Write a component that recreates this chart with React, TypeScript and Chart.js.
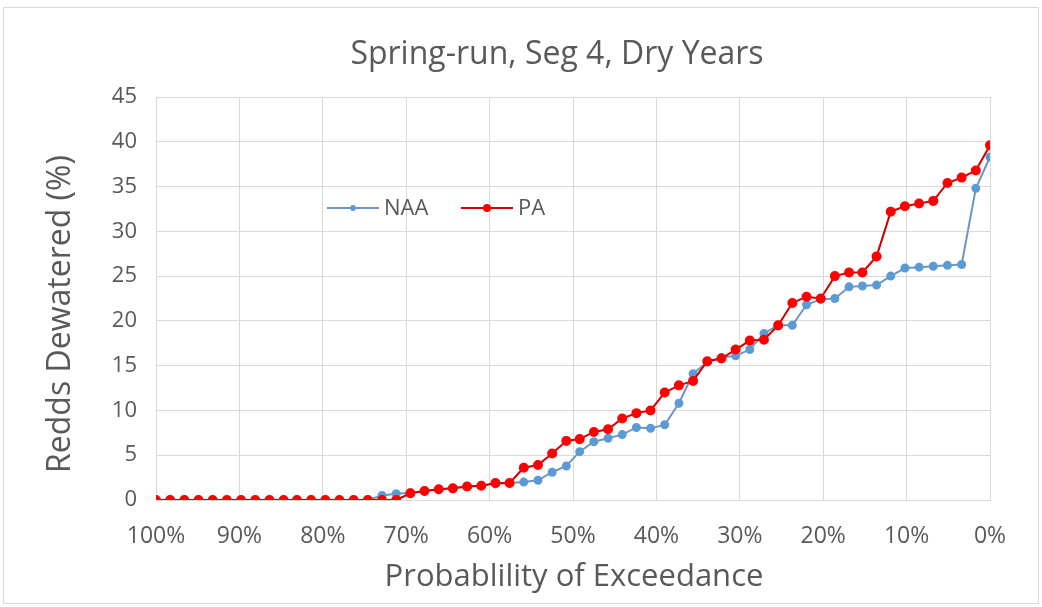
import React, { useEffect, useRef } from "react";
import { Chart, registerables } from "chart.js";

Chart.register(...registerables);

const exceedance = [
  100.0, 98.3, 96.6, 94.9, 93.2, 91.5, 89.8, 88.1, 86.4, 84.7,
  83.1, 81.4, 79.7, 78.0, 76.3, 74.6, 72.9, 71.2, 69.5, 67.8,
  66.1, 64.4, 62.7, 61.0, 59.3, 57.6, 55.9, 54.2, 52.5, 50.8,
  49.2, 47.5, 45.8, 44.1, 42.4, 40.7, 39.0, 37.3, 35.6, 33.9,
  32.2, 30.5, 28.8, 27.1, 25.4, 23.7, 22.0, 20.3, 18.6, 16.9,
  15.3, 13.6, 11.9, 10.2, 8.5, 6.8, 5.1, 3.4, 1.7, 0.0,
];

const naa = [
  0, 0, 0, 0, 0, 0, 0, 0, 0, 0,
  0, 0, 0, 0, 0, 0, 0.5, 0.7, 0.8, 1.0,
  1.2, 1.3, 1.5, 1.6, 1.8, 1.9, 2.0, 2.2, 3.1, 3.8,
  5.4, 6.5, 6.9, 7.3, 8.1, 8.0, 8.4, 10.8, 14.1, 15.4,
  15.9, 16.1, 16.8, 18.6, 19.5, 19.5, 21.8, 22.4, 22.5, 23.8,
  23.9, 24.0, 25.0, 25.9, 26.0, 26.1, 26.2, 26.3, 34.8, 38.3,
];

const pa = [
  0, 0, 0, 0, 0, 0, 0, 0, 0, 0,
  0, 0, 0, 0, 0, 0, 0, 0, 0.75, 1.0,
  1.2, 1.3, 1.5, 1.6, 1.9, 1.9, 3.6, 3.9, 5.2, 6.6,
  6.8, 7.6, 7.9, 9.1, 9.7, 10.0, 12.0, 12.8, 13.3, 15.5,
  15.8, 16.8, 17.8, 17.9, 19.5, 22.0, 22.7, 22.5, 25.0, 25.4,
  25.4, 27.2, 32.2, 32.8, 33.1, 33.4, 35.4, 36.0, 36.8, 39.6,
];

const seriesNames = ["NAA", "PA"];
const titleText = "Spring-run, Seg 4, Dry Years";
const xTitle = "Probablility of Exceedance";
const yTitle = "Redds Dewatered (%)";

const TEXT = "#595959";
const GRID = "#d9d9d9";
const BLUE_LINE = "#6f95c0";
const BLUE_PT = "#5b9bd5";
const RED_LINE = "#d00000";
const RED_PT = "#ff0000";
const FONT = "'Open Sans'";

const decorPlugin = {
  id: "decor",
  afterDraw(chart: any) {
    const { ctx, chartArea } = chart;
    const L = chartArea.left;
    const T = chartArea.top;
    const B = chartArea.bottom;
    ctx.save();
    // titles
    ctx.fillStyle = TEXT;
    ctx.textAlign = "center";
    ctx.textBaseline = "middle";
    ctx.font = `32px ${FONT}`;
    ctx.fillText(titleText, L + 401, T - 42);
    ctx.font = `31px ${FONT}`;
    ctx.fillText(xTitle, L + 418, B + 77);
    ctx.save();
    ctx.translate(L - 95, T + 217);
    ctx.rotate(-Math.PI / 2);
    ctx.font = `32px ${FONT}`;
    ctx.fillText(yTitle, 0, 0);
    ctx.restore();

    // legend inside plot
    const y = T + 111;
    const items = [
      { x: L + 171, label: seriesNames[0], line: BLUE_LINE, pt: BLUE_PT, r: 3 },
      { x: L + 305, label: seriesNames[1], line: RED_LINE, pt: RED_PT, r: 4 },
    ];
    for (const it of items) {
      ctx.strokeStyle = it.line;
      ctx.lineWidth = 2;
      ctx.beginPath();
      ctx.moveTo(it.x, y);
      ctx.lineTo(it.x + 52, y);
      ctx.stroke();
      ctx.fillStyle = it.pt;
      ctx.beginPath();
      ctx.arc(it.x + 26, y, it.r, 0, Math.PI * 2);
      ctx.fill();
      ctx.fillStyle = TEXT;
      ctx.font = `22px ${FONT}`;
      ctx.textBaseline = "middle";
      ctx.textAlign = "left";
      ctx.fillText(it.label, it.x + 57, y + 1);
    }
    // outer chart border
    ctx.strokeStyle = GRID;
    ctx.lineWidth = 1;
    ctx.strokeRect(3.5, 7.5, 1035, 596);
    ctx.restore();
  },
};

export default function App() {
  const ref = useRef<HTMLCanvasElement>(null);
  useEffect(() => {
    if (!ref.current) return;
    const chart = new Chart(ref.current, {
      type: "line",
      data: {
        datasets: [
          {
            label: seriesNames[0],
            data: exceedance.map((x, i) => ({ x, y: naa[i] })),
            borderColor: BLUE_LINE,
            backgroundColor: BLUE_PT,
            pointBackgroundColor: BLUE_PT,
            pointBorderColor: BLUE_PT,
            pointRadius: 3.5,
            borderWidth: 2,
            order: 2,
          },
          {
            label: seriesNames[1],
            data: exceedance.map((x, i) => ({ x, y: pa[i] })),
            borderColor: RED_LINE,
            backgroundColor: RED_PT,
            pointBackgroundColor: RED_PT,
            pointBorderColor: RED_PT,
            pointRadius: 4,
            borderWidth: 2,
            order: 1,
          },
        ],
      },
      options: {
        animation: false,
        responsive: false,
        layout: { padding: { left: 0, right: 52, top: 97, bottom: 0 } },
        plugins: {
          legend: { display: false },
          tooltip: { enabled: false },
          title: { display: false },
        },
        scales: {
          x: {
            type: "linear",
            reverse: true,
            min: 0,
            max: 100,
            afterFit: (s: any) => {
              s.height = 107;
            },
            ticks: {
              stepSize: 10,
              color: TEXT,
              font: { family: FONT, size: 23 },
              padding: 23,
              maxRotation: 0,
              callback: (v: any) => `${v}%`,
            },
            grid: { color: GRID, drawTicks: false },
            border: { color: GRID },
          },
          y: {
            min: 0,
            max: 45,
            afterFit: (s: any) => {
              s.width = 156;
            },
            ticks: {
              stepSize: 5,
              color: TEXT,
              font: { family: FONT, size: 22 },
              padding: 19,
            },
            grid: { color: GRID, drawTicks: false },
            border: { display: false },
          },
        },
      },
      plugins: [decorPlugin],
    });
    return () => chart.destroy();
  }, []);
  return (
    <div style={{ position: "fixed", left: 0, top: 0, width: 1042, height: 607, background: "#fff" }}>
      <canvas ref={ref} width={1042} height={607} style={{ width: 1042, height: 607, display: "block" }} />
    </div>
  );
}
